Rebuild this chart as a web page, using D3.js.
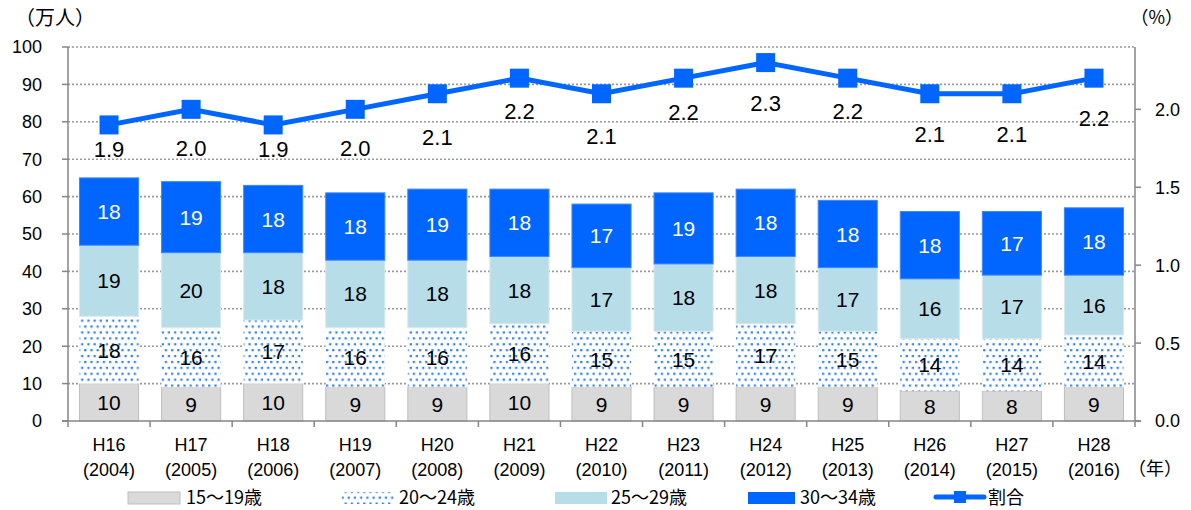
<!DOCTYPE html>
<html>
<head>
<meta charset="utf-8">
<script src="https://cdn.jsdelivr.net/npm/d3@7"></script>
<style>
  html, body { margin: 0; padding: 0; background: #fff; }
  svg { display: block; font-family: "Liberation Sans", "Noto Sans CJK JP", sans-serif; }
</style>
</head>
<body>
<svg id="chart" width="1191" height="510"></svg>
<script>
// Fiscal years (Heisei era / Western year)
const eraLabels = ["H16","H17","H18","H19","H20","H21","H22","H23","H24","H25","H26","H27","H28"];
const yearLabels = ["(2004)","(2005)","(2006)","(2007)","(2008)","(2009)","(2010)","(2011)","(2012)","(2013)","(2014)","(2015)","(2016)"];

// Counts by age group (10,000 persons)
const age15to19 = [10, 9, 10, 9, 9, 10, 9, 9, 9, 9, 8, 8, 9];
const age20to24 = [18, 16, 17, 16, 16, 16, 15, 15, 17, 15, 14, 14, 14];
const age25to29 = [19, 20, 18, 18, 18, 18, 17, 18, 18, 17, 16, 17, 16];
const age30to34 = [18, 19, 18, 18, 19, 18, 17, 19, 18, 18, 18, 17, 18];

// Share (%)
const rateValues = [1.9, 2.0, 1.9, 2.0, 2.1, 2.2, 2.1, 2.2, 2.3, 2.2, 2.1, 2.1, 2.2];

// Axis ticks
const leftTicks = [0, 10, 20, 30, 40, 50, 60, 70, 80, 90, 100];
const rightTicks = [0.0, 0.5, 1.0, 1.5, 2.0];

// Series names
const seriesNames = ["15～19歳", "20～24歳", "25～29歳", "30～34歳"];
const rateName = "割合";

// Vertical nudges (px) for the share labels under each marker
const rateLabelDy = [24, 39, 24, 39, 43, 33, 42, 34, 40, 33, 40, 40, 40];

const svg = d3.select("#chart");
const plotL = 68, plotR = 1135, plotT = 47, plotB = 421;

const x = d3.scaleBand().domain(eraLabels).range([plotL, plotR]).paddingInner(0.28).paddingOuter(0.14);
const yL = d3.scaleLinear().domain([0, 100]).range([plotB, plotT]);
const yR = d3.scaleLinear().domain([0, 2.4]).range([plotB, plotT]);

// dotted fill for the 20-24 group
const defs = svg.append("defs");
const pat = defs.append("pattern").attr("id", "dots").attr("patternUnits", "userSpaceOnUse")
  .attr("width", 6.2).attr("height", 11.8);
pat.append("rect").attr("width", 6.2).attr("height", 11.8).attr("fill", "#fff");
pat.append("rect").attr("x", 0.5).attr("y", 1).attr("width", 2.2).attr("height", 2.2).attr("fill", "#2f7ff5");
pat.append("rect").attr("x", 3.6).attr("y", 6.9).attr("width", 2.2).attr("height", 2.2).attr("fill", "#2f7ff5");

const fills = ["#d9d9d9", "url(#dots)", "#b7dee8", "#0066ff"];
const strokes = ["#bfbfbf", "none", "#d9e8ee", "#3d86ff"];
const textColors = ["#000", "#000", "#000", "#fff"];

// grid
svg.append("g").selectAll("line").data(leftTicks.filter(d => d > 0)).join("line")
  .attr("x1", plotL).attr("x2", plotR)
  .attr("y1", d => yL(d)).attr("y2", d => yL(d))
  .attr("stroke", "#999").attr("stroke-width", 1.6).attr("stroke-dasharray", "2,2");

// stacked bars
const table = eraLabels.map((c, i) => ({
  cat: c, s0: age15to19[i], s1: age20to24[i], s2: age25to29[i], s3: age30to34[i]
}));
const stack = d3.stack().keys(["s0", "s1", "s2", "s3"])(table);

stack.forEach((layer, k) => {
  const g = svg.append("g");
  g.selectAll("rect").data(layer).join("rect")
    .attr("x", d => x(d.data.cat))
    .attr("width", x.bandwidth())
    .attr("y", d => yL(d[1]))
    .attr("height", d => yL(d[0]) - yL(d[1]))
    .attr("fill", fills[k])
    .attr("stroke", strokes[k]).attr("stroke-width", 1);
  g.selectAll("text").data(layer).join("text")
    .attr("x", d => x(d.data.cat) + x.bandwidth() / 2)
    .attr("y", d => (yL(d[0]) + yL(d[1])) / 2)
    .attr("dy", "0.36em")
    .attr("text-anchor", "middle")
    .attr("font-size", 21)
    .attr("fill", textColors[k])
    .text(d => d[1] - d[0]);
});

// axes lines
const axisColor = "#868686";
svg.append("line").attr("x1", plotL).attr("x2", plotL).attr("y1", plotT).attr("y2", plotB)
  .attr("stroke", axisColor).attr("stroke-width", 1.5);
svg.append("line").attr("x1", plotR).attr("x2", plotR).attr("y1", plotT).attr("y2", plotB)
  .attr("stroke", axisColor).attr("stroke-width", 1.5);
svg.append("line").attr("x1", plotL - 6).attr("x2", plotR + 6).attr("y1", plotB).attr("y2", plotB)
  .attr("stroke", axisColor).attr("stroke-width", 1.5);

// left ticks
svg.append("g").selectAll("line").data(leftTicks).join("line")
  .attr("x1", plotL - 6).attr("x2", plotL).attr("y1", d => yL(d)).attr("y2", d => yL(d))
  .attr("stroke", axisColor).attr("stroke-width", 1.5);
svg.append("g").selectAll("text").data(leftTicks).join("text")
  .attr("x", 42).attr("y", d => yL(d)).attr("dy", "0.36em")
  .attr("text-anchor", "end").attr("font-size", 18).text(d => d);

// right ticks
svg.append("g").selectAll("line").data(rightTicks).join("line")
  .attr("x1", plotR).attr("x2", plotR + 6).attr("y1", d => yR(d)).attr("y2", d => yR(d))
  .attr("stroke", axisColor).attr("stroke-width", 1.5);
svg.append("g").selectAll("text").data(rightTicks).join("text")
  .attr("x", 1155).attr("y", d => yR(d)).attr("dy", "0.36em")
  .attr("text-anchor", "start").attr("font-size", 18).text(d => d.toFixed(1));

// category boundary ticks
const bounds = d3.range(eraLabels.length + 1).map(i => plotL + i * (plotR - plotL) / eraLabels.length);
svg.append("g").selectAll("line").data(bounds).join("line")
  .attr("x1", d => d).attr("x2", d => d).attr("y1", plotB).attr("y2", plotB + 6)
  .attr("stroke", axisColor).attr("stroke-width", 1.5);

// category labels
const catG = svg.append("g").selectAll("g").data(eraLabels).join("g")
  .attr("transform", d => `translate(${x(d) + x.bandwidth() / 2},0)`);
catG.append("text").attr("y", 445).attr("dy", "0.36em").attr("text-anchor", "middle")
  .attr("font-size", 18).text(d => d);
catG.append("text").attr("y", 470).attr("dy", "0.36em").attr("text-anchor", "middle")
  .attr("font-size", 18).text((d, i) => yearLabels[i]);

// unit labels
svg.append("text").attr("x", 15).attr("y", 18).attr("dy", "0.36em").attr("font-size", 20)
  .attr("font-family", "Noto Sans CJK JP").text("（万人）");
svg.append("text").attr("x", 1183).attr("y", 18).attr("dy", "0.36em").attr("font-size", 18)
  .attr("text-anchor", "end")
  .attr("font-family", "Noto Sans CJK JP").text("（%）");
svg.append("text").attr("x", 1128).attr("y", 469).attr("dy", "0.36em").attr("font-size", 18)
  .attr("font-family", "Noto Sans CJK JP").text("（年）");

// share line
const cx = d => x(d) + x.bandwidth() / 2;
const blue = "#0066ff";
svg.append("path")
  .datum(rateValues)
  .attr("fill", "none").attr("stroke", blue).attr("stroke-width", 5)
  .attr("d", d3.line().x((d, i) => cx(eraLabels[i])).y(d => yR(d)));
const mk = 19;
svg.append("g").selectAll("rect").data(rateValues).join("rect")
  .attr("x", (d, i) => cx(eraLabels[i]) - mk / 2)
  .attr("y", d => yR(d) - mk / 2)
  .attr("width", mk).attr("height", mk).attr("fill", blue);
svg.append("g").selectAll("text").data(rateValues).join("text")
  .attr("x", (d, i) => cx(eraLabels[i]))
  .attr("y", (d, i) => yR(d) + rateLabelDy[i])
  .attr("dy", "0.36em").attr("text-anchor", "middle").attr("font-size", 22)
  .text(d => d.toFixed(1));

// legend
const legY = 498;
const legendItems = [
  { x: 128, w: 52, fill: fills[0], stroke: strokes[0], name: seriesNames[0], tx: 186 },
  { x: 342, w: 52, fill: fills[1], stroke: "none", name: seriesNames[1], tx: 399 },
  { x: 555, w: 52, fill: fills[2], stroke: "none", name: seriesNames[2], tx: 611 },
  { x: 748, w: 47, fill: fills[3], stroke: "none", name: seriesNames[3], tx: 800 }
];
const lg = svg.append("g");
legendItems.forEach(it => {
  lg.append("rect").attr("x", it.x).attr("y", legY - 6).attr("width", it.w).attr("height", 12)
    .attr("fill", it.fill).attr("stroke", it.stroke);
  lg.append("text").attr("x", it.tx).attr("y", legY).attr("dy", "0.36em").attr("font-size", 18)
    .attr("font-family", "Noto Sans CJK JP").text(it.name);
});
lg.append("line").attr("x1", 936).attr("x2", 984).attr("y1", legY - 1).attr("y2", legY - 1)
  .attr("stroke", blue).attr("stroke-width", 5).attr("stroke-linecap", "round");
lg.append("rect").attr("x", 954).attr("y", legY - 7).attr("width", 12).attr("height", 12).attr("fill", blue);
lg.append("text").attr("x", 988).attr("y", legY).attr("dy", "0.36em").attr("font-size", 18)
  .attr("font-family", "Noto Sans CJK JP").text(rateName);
</script>
</body>
</html>
